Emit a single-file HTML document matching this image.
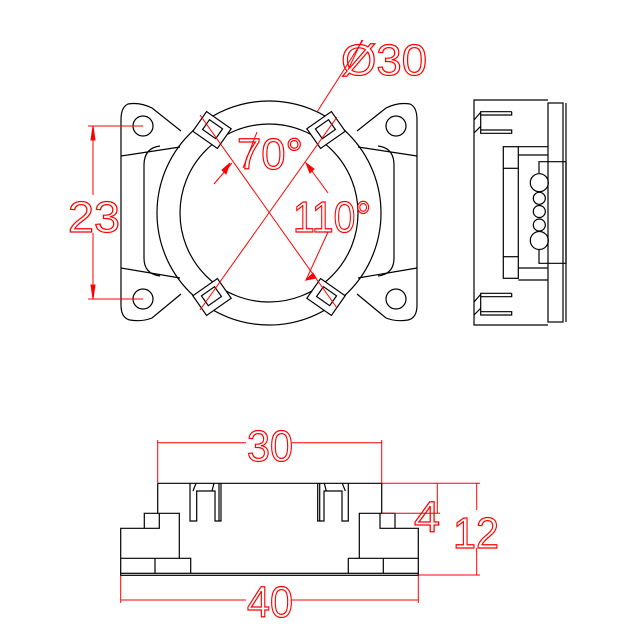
<!DOCTYPE html>
<html><head><meta charset="utf-8"><style>
html,body{margin:0;padding:0;background:#fff;}
svg{display:block;}
text{font-family:"Liberation Sans",sans-serif;fill:none;stroke:#f00;stroke-width:1.2;}
</style></head><body>
<svg width="622" height="632" viewBox="0 0 622 632" xmlns="http://www.w3.org/2000/svg">
<g fill="none" stroke="#000" stroke-width="1.2">
<!-- FRONT VIEW -->
<!-- outer body -->
<path d="M181,131 L152,108 Q140,102 128,104 Q121,107 121,120 L121,305 Q121,318 130,320 Q142,322 152,318 L181,294"/>
<path d="M357,131 L386,108 Q398,102 410,104 Q417,107 417,120 L417,305 Q417,318 408,320 Q396,322 386,318 L357,294"/>
<circle cx="143" cy="126" r="10"/><circle cx="143" cy="299" r="10"/>
<circle cx="396" cy="126" r="10"/><circle cx="396" cy="299" r="10"/>
<line x1="121" y1="156" x2="180" y2="147"/><line x1="121" y1="268" x2="180" y2="278"/>
<line x1="417" y1="156" x2="358" y2="147"/><line x1="417" y1="268" x2="358" y2="278"/>
<path d="M160,146 Q144,148 144,165 L144,258 Q144,274 160,276"/>
<path d="M378,146 Q394,148 394,165 L394,258 Q394,274 378,276"/>
<circle cx="269" cy="213" r="112"/>
<circle cx="269" cy="213" r="89"/>
<!-- tabs -->
<g transform="translate(212,130) rotate(35)"><rect x="-15" y="-12" width="30" height="24" fill="#fff"/><rect x="-8" y="-7" width="16" height="12"/></g>
<g transform="translate(326,130) rotate(-35)"><rect x="-15" y="-12" width="30" height="24" fill="#fff"/><rect x="-8" y="-7" width="16" height="12"/></g>
<g transform="translate(212,297) rotate(-35)"><rect x="-15" y="-12" width="30" height="24" fill="#fff"/><rect x="-8" y="-7" width="16" height="12"/></g>
<g transform="translate(326,297) rotate(35)"><rect x="-15" y="-12" width="30" height="24" fill="#fff"/><rect x="-8" y="-7" width="16" height="12"/></g>

<!-- SIDE VIEW -->
<path d="M548,100 L474,100 L474,325 L548,325"/>
<rect x="548" y="103" width="15" height="219"/>
<line x1="566" y1="103" x2="566" y2="322"/>
<path d="M511.7,111.7 L480.7,111.7 L480.7,133.3 L511.7,133.3 L511.7,130 L480.7,130 M480.7,115 L511.7,115 L511.7,111.7 M474,120 L481,112 M474,133 L481,126"/>
<path d="M511.7,293.3 L480.7,293.3 L480.7,315 L511.7,315 L511.7,311.7 L480.7,311.7 M480.7,296.7 L511.7,296.7 L511.7,293.3 M474,302 L481,294 M474,315 L481,308"/>
<rect x="503.3" y="146.7" width="15" height="131.6"/>
<line x1="503.3" y1="168.3" x2="518.3" y2="168.3"/><line x1="503.3" y1="256.7" x2="518.3" y2="256.7"/>
<line x1="518.3" y1="146.7" x2="548" y2="146.7"/><line x1="518.3" y1="155" x2="548" y2="155"/>
<line x1="518.3" y1="268" x2="548" y2="268"/><line x1="518.3" y1="280" x2="548" y2="280"/>
<path d="M539,173 L539,161.7 L566,161.7 L566,263.3 L539,263.3 L539,250"/>
<circle cx="539.3" cy="182.7" r="9"/><circle cx="539.3" cy="198.3" r="6"/><circle cx="539.3" cy="211.5" r="6"/><circle cx="539.3" cy="225" r="6"/><circle cx="539.3" cy="240.5" r="9"/>

<!-- BOTTOM VIEW -->
<line x1="157.7" y1="483.3" x2="381.7" y2="483.3"/>
<line x1="157.7" y1="483.3" x2="157.7" y2="513.3"/>
<line x1="381.7" y1="483.3" x2="381.7" y2="513.3"/>
<path d="M144.3,528.3 L144.3,513.3 L179.3,513.3 L179.3,558.3 M159.3,513.3 L159.3,528.3 L120.7,528.3 L120.7,573.3"/>
<path d="M120.7,558.3 L190.7,558.3 L190.7,573.3 M155,558.3 L155,573.3"/>
<path d="M395,528.3 L395,513.3 L359.3,513.3 L359.3,558.3 M380,513.3 L380,528.3 L418.3,528.3 L418.3,573.3"/>
<path d="M418.3,558.3 L348.3,558.3 L348.3,573.3 M383.3,558.3 L383.3,573.3"/>
<rect x="120.7" y="573.3" width="297.6" height="2"/>
<path d="M190,483.3 L190,521 L196.7,521 L196.7,491 L215,491 L215,521 L221,521 L221,483.3 M219,483.3 L219,521 M193,491 L196,483.3 M212,491 L214,483.3"/>
<path d="M348.3,483.3 L348.3,521 L342,521 L342,491 L324,491 L324,521 L317.7,521 L317.7,483.3 M319.7,483.3 L319.7,521 M345.3,491 L342.3,483.3 M326.3,491 L324.3,483.3"/>
</g>

<g fill="none" stroke="#f00" stroke-width="1">
<!-- front red -->
<line x1="200" y1="115" x2="337" y2="308"/>
<line x1="337" y1="117" x2="200" y2="310"/>
<line x1="317" y1="112" x2="363" y2="40"/>
<line x1="348" y1="70" x2="362" y2="40"/>
<line x1="214" y1="184" x2="232" y2="163"/>
<line x1="243" y1="168" x2="257" y2="132"/>
<line x1="306" y1="163" x2="328" y2="193"/>
<line x1="306" y1="280" x2="328" y2="232"/>
<path d="M230,163 L222,170 L226,174 Z" fill="#f00"/>
<path d="M306,163 L314,169 L310,173 Z" fill="#f00"/>
<path d="M306,280 L313,273 L316,278 Z" fill="#f00"/>
<!-- 23 -->
<line x1="88" y1="126" x2="143" y2="126"/><line x1="88" y1="299" x2="143" y2="299"/>
<line x1="93" y1="126" x2="93" y2="195"/><line x1="93" y1="233" x2="93" y2="299"/>
<path d="M93,126 L91,140 L95,140 Z M93,299 L91,285 L95,285 Z" fill="#f00"/>
<!-- 30 -->
<line x1="157.7" y1="442.7" x2="246" y2="442.7"/><line x1="292" y1="442.7" x2="381.7" y2="442.7"/>
<line x1="157.7" y1="440" x2="157.7" y2="483"/><line x1="381.7" y1="440" x2="381.7" y2="483"/>
<!-- 40 -->
<line x1="120.7" y1="600" x2="246" y2="600"/><line x1="292" y1="600" x2="418.3" y2="600"/>
<line x1="120.7" y1="576" x2="120.7" y2="603"/><line x1="418.3" y1="576" x2="418.3" y2="603"/>
<!-- 4 -->
<line x1="382" y1="483.3" x2="440" y2="483.3"/><line x1="382" y1="513.3" x2="440" y2="513.3"/>
<line x1="437.3" y1="483.3" x2="437.3" y2="513.3"/>
<!-- 12 -->
<line x1="440" y1="483.3" x2="480" y2="483.3"/><line x1="419" y1="575" x2="480" y2="575"/>
<line x1="476.7" y1="483.3" x2="476.7" y2="510"/><line x1="476.7" y1="548" x2="476.7" y2="575"/>
</g>

<g>
<text x="341" y="75" font-size="44" textLength="86" lengthAdjust="spacingAndGlyphs">Ø30</text>
<text x="237" y="169" font-size="44" textLength="66" lengthAdjust="spacingAndGlyphs">70°</text>
<text x="293" y="232" font-size="44" textLength="78" lengthAdjust="spacingAndGlyphs">110°</text>
<text x="68" y="232" font-size="44" textLength="52" lengthAdjust="spacingAndGlyphs">23</text>
<text x="247" y="461" font-size="44" textLength="46" lengthAdjust="spacingAndGlyphs">30</text>
<text x="247" y="617" font-size="44" textLength="46" lengthAdjust="spacingAndGlyphs">40</text>
<text x="414" y="532" font-size="44" textLength="26" lengthAdjust="spacingAndGlyphs">4</text>
<text x="453" y="548" font-size="44" textLength="46" lengthAdjust="spacingAndGlyphs">12</text>
</g>
</svg>
</body></html>
